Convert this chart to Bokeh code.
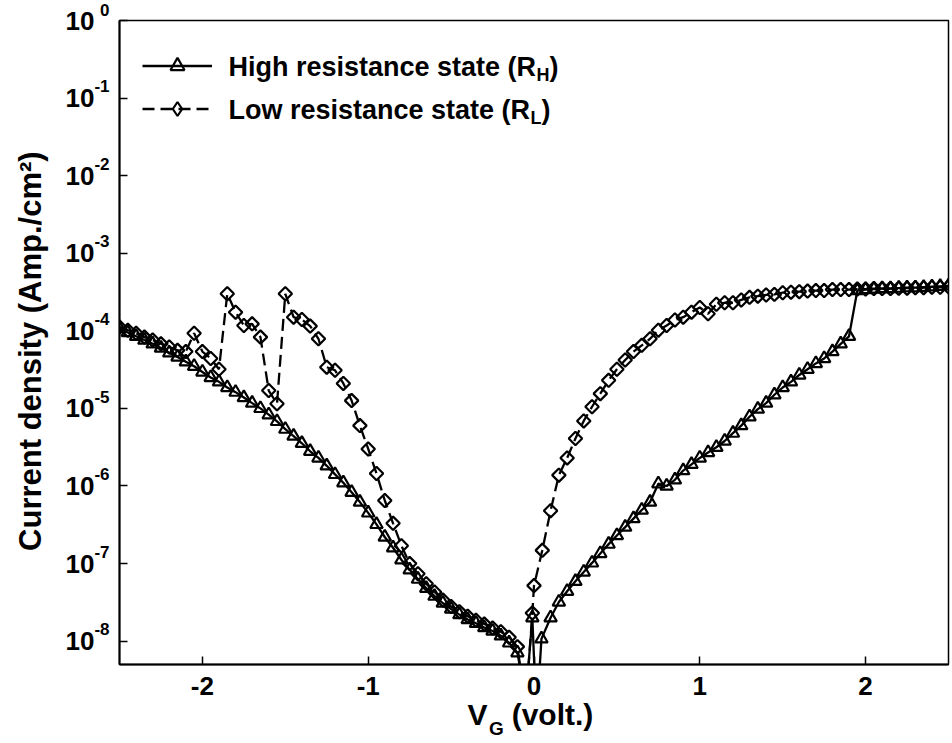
import numpy as np
from bokeh.plotting import figure
from bokeh.models import (Range1d, FixedTicker, Label, Legend, LegendItem,
                          CustomJSTickFormatter, LogAxis, LinearAxis)
from bokeh.embed import file_html
from bokeh.resources import INLINE

FONT = "Liberation Sans"

# ---------------- data ----------------
high_v = [-2.50, -2.45, -2.40, -2.35, -2.30, -2.25, -2.20, -2.15, -2.10, -2.05,
          -2.00, -1.95, -1.90, -1.85, -1.80, -1.75, -1.70, -1.65, -1.60, -1.55,
          -1.50, -1.45, -1.40, -1.35, -1.30, -1.25, -1.20, -1.15, -1.10, -1.05,
          -1.00, -0.95, -0.90, -0.85, -0.80, -0.75, -0.70, -0.65, -0.60, -0.55,
          -0.50, -0.45, -0.40, -0.35, -0.30, -0.25, -0.20, -0.15, -0.10,
          -0.05, -0.01, 0.015, 0.045,
          0.10, 0.15, 0.20, 0.25, 0.30, 0.35, 0.40, 0.45, 0.50, 0.55,
          0.60, 0.65, 0.70, 0.75, 0.80, 0.85, 0.90, 0.95, 1.00, 1.05,
          1.10, 1.15, 1.20, 1.25, 1.30, 1.35, 1.40, 1.45, 1.50, 1.55,
          1.60, 1.65, 1.70, 1.75, 1.80, 1.85, 1.90, 1.95, 2.00, 2.05,
          2.10, 2.15, 2.20, 2.25, 2.30, 2.35, 2.40, 2.45, 2.50]
high_j = [1.07e-4, 9.5e-5, 8.5e-5, 7.6e-5, 6.8e-5, 6.0e-5, 5.2e-5, 4.6e-5, 4.0e-5, 3.5e-5,
          2.95e-5, 2.5e-5, 2.2e-5, 1.86e-5, 1.62e-5, 1.38e-5, 1.17e-5, 1.0e-5, 8.3e-6, 6.8e-6,
          5.4e-6, 4.4e-6, 3.55e-6, 2.8e-6, 2.3e-6, 1.82e-6, 1.41e-6, 1.1e-6, 8.3e-7, 6.2e-7,
          4.5e-7, 3.2e-7, 2.2e-7, 1.6e-7, 1.12e-7, 8.3e-8, 6.3e-8, 4.8e-8, 3.8e-8, 3.1e-8,
          2.6e-8, 2.2e-8, 1.9e-8, 1.7e-8, 1.5e-8, 1.35e-8, 1.17e-8, 9.5e-9, 7.1e-9,
          1.8e-9, 2.0e-8, 1.0e-9, 1.07e-8,
          2.0e-8, 3.2e-8, 4.4e-8, 5.9e-8, 7.8e-8, 1.02e-7, 1.35e-7, 1.78e-7, 2.3e-7, 2.95e-7,
          3.8e-7, 4.9e-7, 6.2e-7, 1.07e-6, 1.0e-6, 1.2e-6, 1.58e-6, 1.9e-6, 2.3e-6, 2.7e-6,
          3.16e-6, 3.8e-6, 4.8e-6, 6.0e-6, 7.8e-6, 9.8e-6, 1.17e-5, 1.5e-5, 1.86e-5, 2.2e-5,
          2.7e-5, 3.2e-5, 3.8e-5, 4.4e-5, 5.4e-5, 6.8e-5, 8.5e-5, 3.3e-4, 3.4e-4, 3.45e-4,
          3.5e-4, 3.5e-4, 3.55e-4, 3.6e-4, 3.6e-4, 3.65e-4, 3.7e-4, 3.75e-4, 3.8e-4]

low_v = [-2.50, -2.45, -2.40, -2.35, -2.30, -2.25, -2.20, -2.15, -2.10, -2.05,
         -2.00, -1.95, -1.90, -1.85, -1.80, -1.75, -1.70, -1.65, -1.60, -1.55,
         -1.50, -1.45, -1.40, -1.35, -1.30, -1.25, -1.20, -1.15, -1.10, -1.05,
         -1.00, -0.95, -0.90, -0.85, -0.80, -0.75, -0.70, -0.65, -0.60, -0.55,
         -0.50, -0.45, -0.40, -0.35, -0.30, -0.25, -0.20, -0.15, -0.10,
         -0.05, -0.01,
         0.00, 0.05, 0.10, 0.15, 0.20, 0.25, 0.30, 0.35, 0.40, 0.45,
         0.50, 0.55, 0.60, 0.65, 0.70, 0.75, 0.80, 0.85, 0.90, 0.95,
         1.00, 1.05, 1.10, 1.15, 1.20, 1.25, 1.30, 1.35, 1.40, 1.45,
         1.50, 1.55, 1.60, 1.65, 1.70, 1.75, 1.80, 1.85, 1.90, 1.95,
         2.00, 2.05, 2.10, 2.15, 2.20, 2.25, 2.30, 2.35, 2.40, 2.45, 2.50]
low_j = [1.12e-4, 1.02e-4, 9.3e-5, 8.3e-5, 7.6e-5, 6.8e-5, 6.2e-5, 5.6e-5, 5.4e-5, 9.3e-5,
         5.4e-5, 4.4e-5, 3.2e-5, 3.0e-4, 1.74e-4, 1.17e-4, 1.23e-4, 8.3e-5, 1.7e-5, 1.15e-5,
         3.0e-4, 1.5e-4, 1.4e-4, 1.15e-4, 7.9e-5, 3.4e-5, 3.1e-5, 2.1e-5, 1.26e-5, 6.0e-6,
         3.0e-6, 1.45e-6, 6.5e-7, 3.3e-7, 1.7e-7, 1.0e-7, 7.4e-8, 5.5e-8, 4.3e-8, 3.4e-8,
         2.8e-8, 2.4e-8, 2.1e-8, 1.86e-8, 1.66e-8, 1.48e-8, 1.32e-8, 1.12e-8, 8.5e-9,
         1.5e-9, 2.3e-8,
         5.2e-8, 1.48e-7, 4.8e-7, 1.38e-6, 2.3e-6, 4.1e-6, 6.9e-6, 1.05e-5, 1.55e-5, 2.3e-5,
         3.2e-5, 4.2e-5, 5.4e-5, 6.5e-5, 7.9e-5, 1.02e-4, 1.17e-4, 1.38e-4, 1.5e-4, 1.74e-4,
         2.0e-4, 1.66e-4, 2.2e-4, 2.3e-4, 2.3e-4, 2.5e-4, 2.7e-4, 2.8e-4, 2.9e-4, 2.95e-4,
         3.1e-4, 3.15e-4, 3.2e-4, 3.25e-4, 3.3e-4, 3.3e-4, 3.4e-4, 3.4e-4, 3.4e-4, 3.45e-4,
         3.45e-4, 3.5e-4, 3.5e-4, 3.5e-4, 3.55e-4, 3.55e-4, 3.6e-4, 3.6e-4, 3.65e-4, 3.65e-4, 3.7e-4]

x_ticks = [-2, -1, 0, 1, 2]
y_tick_exponents = [0, -1, -2, -3, -4, -5, -6, -7, -8]
x_limits = (-2.5, 2.5)
y_limits = (5.0e-9, 1.0)

legend_labels = ["High resistance state (R", "Low resistance state (R"]
legend_subs = ["H", "L"]
y_title = "Current density (Amp./cm\u00b2)"

# ---------------- layout constants ----------------
W, H = 952, 743
FL, FR, FT, FB = 119, 4, 20, 79          # frame borders
FW = W - FL - FR


def px_to_x(px):
    """page pixel column -> data x (for placing title pieces)"""
    return x_limits[0] + (px - FL) / FW * (x_limits[1] - x_limits[0])


# ---------------- figure ----------------
p = figure(width=W, height=H, y_axis_type="log",
           x_range=Range1d(*x_limits), y_range=Range1d(*y_limits),
           output_backend="svg", toolbar_location=None,
           min_border_left=FL, min_border_right=FR, min_border_top=FT, min_border_bottom=FB)

p.xgrid.visible = False
p.ygrid.visible = False
p.outline_line_color = "black"
p.outline_line_width = 1.5
p.background_fill_color = "white"
p.border_fill_color = "white"

for ax in (p.xaxis[0], p.yaxis[0]):
    ax.axis_line_width = 2
    ax.axis_line_color = "black"
    ax.major_tick_in = 8
    ax.major_tick_out = 0
    ax.major_tick_line_width = 1.5
    ax.minor_tick_line_color = None
    ax.major_label_text_font = FONT
    ax.major_label_text_font_style = "bold"
    ax.major_label_text_color = "black"

# x axis: plain tick labels with hyphen minus
p.xaxis.ticker = FixedTicker(ticks=x_ticks)
p.xaxis.formatter = CustomJSTickFormatter(code="return tick.toFixed(0)")
p.xaxis.major_label_text_font_size = "26px"
p.xaxis.major_label_standoff = 12

# y axis (nearest the frame): exponents, raised via an empty second line
y_tick_values = [10.0 ** e for e in y_tick_exponents]
p.yaxis.ticker = FixedTicker(ticks=y_tick_values)
p.yaxis.formatter = CustomJSTickFormatter(
    code="return String(Math.round(Math.log10(tick))) + '\\n '")
p.yaxis.major_label_text_font_size = "17px"
p.yaxis.major_label_standoff = 10

# outer y axis: the "10" bases and the axis title
ten_axis = LogAxis(ticker=FixedTicker(ticks=y_tick_values),
                   formatter=CustomJSTickFormatter(code="return '10'"),
                   major_label_text_font=FONT, major_label_text_font_style="bold",
                   major_label_text_font_size="26px", major_label_text_color="black",
                   major_label_standoff=-3,
                   major_tick_in=0, major_tick_out=0, minor_tick_in=0, minor_tick_out=0,
                   axis_line_color=None, major_tick_line_color=None, minor_tick_line_color=None,
                   axis_label=y_title + "\u00a0\u00a0",
                   axis_label_text_font=FONT, axis_label_text_font_style="bold",
                   axis_label_text_font_size="31px", axis_label_text_color="black",
                   axis_label_standoff=15)
p.add_layout(ten_axis, "left")

# x title pieces: "V" and "(volt.)" ...
title_axis = LinearAxis(ticker=FixedTicker(ticks=[px_to_x(477), px_to_x(552)]),
                        formatter=CustomJSTickFormatter(code="return index == 0 ? 'V' : '(volt.)'"),
                        major_label_text_font=FONT, major_label_text_font_style="bold",
                        major_label_text_font_size="30px", major_label_text_color="black",
                        major_label_standoff=0,
                        major_tick_in=0, major_tick_out=0, minor_tick_in=0, minor_tick_out=0,
                        axis_line_color=None, major_tick_line_color=None, minor_tick_line_color=None)
p.add_layout(title_axis, "below")
# ... and the subscript "G"
sub_axis = LinearAxis(ticker=FixedTicker(ticks=[px_to_x(496)]),
                      formatter=CustomJSTickFormatter(code="return 'G'"),
                      major_label_text_font=FONT, major_label_text_font_style="bold",
                      major_label_text_font_size="19px", major_label_text_color="black",
                      major_label_standoff=-16,
                      major_tick_in=0, major_tick_out=0, minor_tick_in=0, minor_tick_out=0,
                      axis_line_color=None, major_tick_line_color=None, minor_tick_line_color=None)
p.add_layout(sub_axis, "below")

# ---------------- series ----------------
low_line = p.line(low_v, low_j, line_color="black", line_width=2.3, line_dash="12 6")
low_pts = p.scatter(low_v, low_j, marker="square", angle=np.pi / 4, size=9.5,
                    fill_color=None, line_color="black", line_width=2.2)
high_line = p.line(high_v, high_j, line_color="black", line_width=2.3)
high_pts = p.scatter(high_v, high_j, marker="triangle", size=12.5,
                     fill_color=None, line_color="black", line_width=2.2)

# legend key for the diamonds (legend markers are never rotated, so a hidden
# "diamond" copy of the same series supplies the key symbol)
low_key = p.scatter(low_v, low_j, marker="diamond", size=14, visible=False,
                    fill_color=None, line_color="black", line_width=2.2)

# ---------------- legend ----------------
legend = Legend(items=[LegendItem(label=" ", renderers=[high_line, high_pts]),
                       LegendItem(label=" ", renderers=[low_line, low_key])],
                location=(23, 538), glyph_width=70, glyph_height=35, spacing=8,
                padding=0, margin=0, border_line_color=None, background_fill_alpha=0,
                label_standoff=0, label_height=20, label_text_font_size="2px",
                inactive_fill_alpha=0)
p.add_layout(legend)


def lab(text, x, y, size, yoff=0):
    p.add_layout(Label(text=text, x=x, y=y, x_units="screen", y_units="screen",
                       text_font=FONT, text_font_style="bold", text_font_size=size,
                       text_color="black", text_align="left", text_baseline="middle",
                       y_offset=yoff))


lab(legend_labels[0], 109, 598, "27px")
lab(legend_subs[0], 417, 598, "18px", yoff=-8)
lab(")", 430, 598, "27px")
lab(legend_labels[1], 109, 555, "27px")
lab(legend_subs[1], 411, 555, "18px", yoff=-8)
lab(")", 422, 555, "27px")

open("out.html", "w").write(file_html(p, INLINE))
